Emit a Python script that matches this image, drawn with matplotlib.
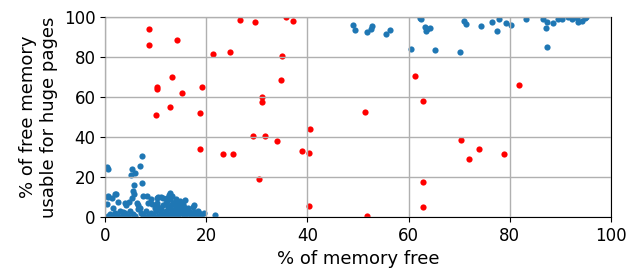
import matplotlib
matplotlib.use("Agg")
import matplotlib.pyplot as plt

# Red series (% of memory free, % usable for huge pages)
red_x = [8.7, 8.7, 14.2, 13.2, 10.3, 10.3, 15.2, 19.1, 12.9, 10.1, 18.8, 18.8,
         21.4, 24.7, 23.3, 25.3, 26.7, 29.6, 35.8, 37.1, 35.0, 34.8, 31.0, 31.0,
         29.2, 31.6, 34.0, 30.4, 38.9, 40.3, 40.5, 40.3, 51.4, 51.8, 61.3, 62.9,
         62.9, 62.9, 70.4, 72.0, 73.9, 78.9, 81.8]
red_y = [94.0, 86.0, 88.5, 70.0, 65.0, 64.0, 62.0, 65.0, 55.0, 51.0, 52.0, 34.0,
         81.5, 82.5, 31.5, 31.5, 98.5, 97.5, 100.0, 98.0, 80.5, 68.5, 60.0, 57.5,
         40.5, 40.5, 38.0, 19.0, 33.0, 32.0, 44.0, 5.5, 52.5, 0.5, 70.5, 58.0,
         17.5, 5.0, 38.5, 29.0, 34.0, 31.5, 66.0]

# Blue series, upper-right group
blue_hi_x = [49.0, 49.4, 51.8, 52.8, 52.6, 55.5, 56.3, 60.5, 62.3, 62.5, 63.2,
             63.6, 64.2, 63.4, 65.2, 70.2, 71.0, 71.3, 74.3, 76.5, 77.9, 77.5,
             79.2, 80.2, 83.2, 86.6, 87.4, 87.2, 87.4, 88.5, 89.5, 90.3, 92.3,
             93.5, 94.3, 94.9, 93.3, 91.5, 95.0]
blue_hi_y = [96.0, 93.5, 92.5, 95.5, 94.0, 91.5, 93.5, 84.0, 99.5, 99.0, 95.0,
             94.0, 94.5, 93.0, 83.5, 82.5, 98.0, 96.5, 95.5, 97.5, 99.0, 93.0,
             97.0, 96.0, 99.0, 99.0, 97.5, 94.5, 85.0, 97.0, 99.0, 99.0, 99.0,
             97.5, 98.0, 99.5, 99.5, 100.0, 100.0]

# Blue series, lower-left group
blue_lo_x = [0.4, 0.5, 7.3, 6.9, 5.3, 5.9, 5.1, 7.3, 5.7, 5.5, 5.7, 0.6, 1.4,
             2.2, 1.6, 2.6, 4.0, 3.6, 4.7, 7.5, 8.3, 6.3, 8.5, 9.3, 9.9, 10.5,
             11.5, 10.3, 12.8, 12.6, 13.8, 15.0, 15.8, 15.4, 16.4, 16.8, 17.4,
             18.4, 14.2, 21.7, 0.4, 0.6, 2.0, 4.2, 5.3, 6.9, 10.3, 12.3, 12.9,
             0.5, 1.5, 2.5, 3.5, 4.0, 4.5, 5.0, 5.5, 6.0, 6.5, 7.0, 7.5, 8.0,
             8.5, 9.0, 9.5, 10.0, 10.5, 10.0, 10.5, 11.0, 11.0, 11.5, 11.5,
             12.0, 12.0, 12.5, 12.5, 13.0, 13.0, 13.0, 13.5, 13.5, 13.5, 14.0,
             14.0, 14.0, 14.5, 14.5, 14.5, 15.0, 15.0, 15.5, 15.5, 16.0, 16.0,
             16.5, 17.0, 17.5, 18.0, 18.5, 19.0, 19.5, 6.5, 3.0, 2.0, 1.0, 11.0,
             17.5, 12.2, 13.2, 14.8, 9.0]
blue_lo_y = [25.0, 24.0, 30.5, 25.5, 24.0, 22.0, 21.0, 17.0, 16.0, 13.0, 11.5,
             10.0, 9.5, 11.5, 4.5, 7.5, 7.0, 2.5, 7.5, 10.5, 10.5, 7.0, 7.0, 6.5,
             4.5, 10.0, 9.5, 9.5, 12.0, 11.0, 7.5, 6.0, 8.5, 6.5, 4.5, 2.5, 5.0,
             3.0, 5.0, 1.0, 6.5, 10.5, 11.5, 6.0, 9.5, 4.5, 7.0, 9.5, 9.0,
             0.5, 0.5, 0.5, 1.0, 2.0, 0.5, 3.0, 1.5, 0.5, 4.0, 2.0, 1.0, 3.0,
             0.5, 2.0, 1.0, 3.0, 0.5, 6.0, 5.0, 2.0, 4.0, 1.0, 6.0, 3.0, 7.0,
             1.0, 5.0, 2.0, 4.0, 6.0, 0.5, 3.0, 7.0, 2.0, 5.0, 9.0, 1.0, 4.0,
             6.0, 2.0, 3.5, 0.5, 5.0, 1.5, 3.0, 2.0, 1.0, 2.5, 1.0, 2.0, 0.5,
             2.0, 6.0, 3.0, 2.0, 1.5, 10.0, 6.0, 8.0, 10.5, 8.0, 9.0]

x_ticks = [0, 20, 40, 60, 80, 100]
y_ticks = [0, 20, 40, 60, 80, 100]

fig = plt.figure(figsize=(6.41, 2.74), dpi=100)
ax = fig.add_axes([0.164, 0.208, 0.789, 0.730])

ax.scatter(blue_lo_x + blue_hi_x, blue_lo_y + blue_hi_y, s=20, color="#1f77b4",
           linewidths=0, zorder=2)
ax.scatter(red_x, red_y, s=20, color="red", linewidths=0, zorder=2)

ax.set_xlim(0, 100)
ax.set_ylim(0, 100)
ax.set_xticks(x_ticks)
ax.set_yticks(y_ticks)
ax.tick_params(labelsize=12)
ax.grid(True, color="#b0b0b0", linewidth=1.0, zorder=3)
ax.set_axisbelow(False)
ax.set_xlabel("% of memory free", fontsize=13)
ax.set_ylabel("% of free memory\nusable for huge pages", fontsize=13)

fig.savefig("out.png", dpi=100)
